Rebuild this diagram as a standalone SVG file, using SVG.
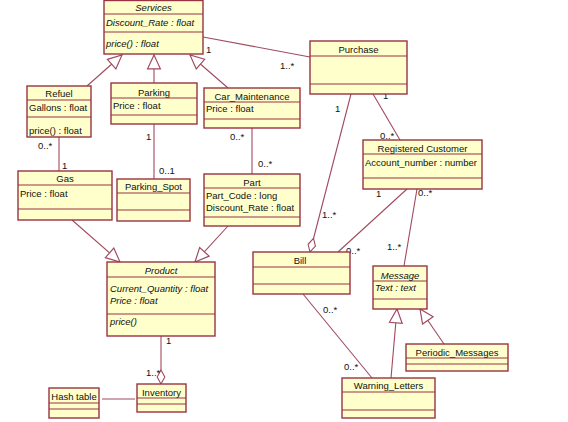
<svg xmlns="http://www.w3.org/2000/svg" width="568" height="422" viewBox="0 0 568 422">
<style>
.box{fill:#FFFFCC;stroke:#993344;stroke-width:1.4}
.sep{stroke:#993344;stroke-width:1.2;fill:none}
.ln{stroke:#A04A5E;stroke-width:1.1;fill:none}
text{font-family:"Liberation Sans",Arial,sans-serif;font-size:9.5px;fill:#111}
.t{text-anchor:middle}
.i{font-style:italic}
</style>
<defs>
<marker id="gen" markerUnits="userSpaceOnUse" markerWidth="16" markerHeight="16" viewBox="-1 -7 15 14" refX="13" refY="0" orient="auto">
<path d="M0,-6 L13,0 L0,6 z" fill="#fff" stroke="#A04A5E" stroke-width="1.1"/>
</marker>
<marker id="dia" markerUnits="userSpaceOnUse" markerWidth="16" markerHeight="10" viewBox="-1 -5 16 10" refX="14" refY="0" orient="auto">
<path d="M0,0 L7,-3.8 L14,0 L7,3.8 z" fill="#fff" stroke="#A04A5E" stroke-width="1.1"/>
</marker>
</defs>
<g id="connectors">
<line class="ln" x1="87" y1="86" x2="122" y2="55" marker-end="url(#gen)"/>
<line class="ln" x1="154" y1="83" x2="154" y2="55" marker-end="url(#gen)"/>
<line class="ln" x1="228" y1="88" x2="190" y2="55" marker-end="url(#gen)"/>
<line class="ln" x1="203" y1="37" x2="310" y2="57"/>
<line class="ln" x1="59" y1="137" x2="59" y2="171"/>
<line class="ln" x1="154" y1="124" x2="154" y2="179"/>
<line class="ln" x1="252" y1="128" x2="252" y2="174"/>
<line class="ln" x1="72" y1="220" x2="120" y2="262" marker-end="url(#gen)"/>
<line class="ln" x1="228" y1="226" x2="195" y2="262" marker-end="url(#gen)"/>
<line class="ln" x1="161" y1="336" x2="161" y2="384" marker-end="url(#dia)"/>
<line class="ln" x1="102" y1="399" x2="135" y2="399"/>
<line class="ln" x1="351" y1="94" x2="310" y2="252" marker-end="url(#dia)"/>
<line class="ln" x1="373" y1="94" x2="400" y2="140"/>
<line class="ln" x1="407" y1="189" x2="338" y2="252"/>
<line class="ln" x1="417" y1="189" x2="404" y2="266"/>
<line class="ln" x1="303" y1="294" x2="372" y2="378"/>
<line class="ln" x1="391" y1="378" x2="397" y2="309" marker-end="url(#gen)"/>
<line class="ln" x1="444" y1="344" x2="420" y2="309" marker-end="url(#gen)"/>
<text x="206" y="53">1</text>
<text x="280" y="69">1..*</text>
<text x="38" y="149">0..*</text>
<text x="62" y="169">1</text>
<text x="146" y="140">1</text>
<text x="159" y="174">0..1</text>
<text x="230" y="140">0..*</text>
<text x="258" y="167">0..*</text>
<text x="166" y="344">1</text>
<text x="146" y="376">1..*</text>
<text x="335" y="112">1</text>
<text x="383" y="99">1</text>
<text x="380" y="139">0..*</text>
<text x="322" y="218">1..*</text>
<text x="376" y="197">1</text>
<text x="346" y="254">0..*</text>
<text x="418" y="196">0..*</text>
<text x="387" y="250">1..*</text>
<text x="323" y="313">0..*</text>
<text x="344" y="370">0..*</text>
</g>
<g id="Services">
<rect class="box" x="104" y="0.5" width="99" height="53.5"/>
<line class="sep" x1="104" y1="14" x2="203" y2="14"/>
<line class="sep" x1="104" y1="32" x2="203" y2="32"/>
<text class="t i" x="153.5" y="11">Services</text>
<text class="i" x="106" y="25.5">Discount_Rate : float</text>
<text class="i" x="106" y="46.5">price() : float</text>
</g>
<g id="Refuel">
<rect class="box" x="27" y="86" width="64" height="51"/>
<line class="sep" x1="27" y1="100" x2="91" y2="100"/>
<line class="sep" x1="27" y1="117" x2="91" y2="117"/>
<text class="t" x="59" y="96.5">Refuel</text>
<text x="29" y="110.5">Gallons : float</text>
<text x="29" y="133.5">price() : float</text>
</g>
<g id="Parking">
<rect class="box" x="111" y="83" width="86" height="41"/>
<line class="sep" x1="111" y1="98" x2="197" y2="98"/>
<line class="sep" x1="111" y1="115" x2="197" y2="115"/>
<text class="t" x="154" y="95.5">Parking</text>
<text x="113" y="108.5">Price : float</text>
</g>
<g id="Car_Maintenance">
<rect class="box" x="204" y="88" width="96" height="40"/>
<line class="sep" x1="204" y1="102" x2="300" y2="102"/>
<line class="sep" x1="204" y1="119" x2="300" y2="119"/>
<text class="t" x="252" y="99.5">Car_Maintenance</text>
<text x="206" y="111.5">Price : float</text>
</g>
<g id="Purchase">
<rect class="box" x="310" y="41" width="97" height="53"/>
<line class="sep" x1="310" y1="56" x2="407" y2="56"/>
<line class="sep" x1="310" y1="84" x2="407" y2="84"/>
<text class="t" x="358.5" y="52.5">Purchase</text>
</g>
<g id="Gas">
<rect class="box" x="18" y="171" width="94" height="49"/>
<line class="sep" x1="18" y1="185" x2="112" y2="185"/>
<line class="sep" x1="18" y1="209" x2="112" y2="209"/>
<text class="t" x="65" y="181.5">Gas</text>
<text x="20" y="196.5">Price : float</text>
</g>
<g id="Parking_Spot">
<rect class="box" x="117" y="179" width="73" height="42"/>
<line class="sep" x1="117" y1="193" x2="190" y2="193"/>
<line class="sep" x1="117" y1="210" x2="190" y2="210"/>
<text class="t" x="153.5" y="189.5">Parking_Spot</text>
</g>
<g id="Part">
<rect class="box" x="204" y="174" width="96" height="52"/>
<line class="sep" x1="204" y1="188" x2="300" y2="188"/>
<line class="sep" x1="204" y1="217" x2="300" y2="217"/>
<text class="t" x="252" y="185.5">Part</text>
<text x="206" y="198.5">Part_Code : long</text>
<text x="206" y="210.5">Discount_Rate : float</text>
</g>
<g id="Registered_Customer">
<rect class="box" x="363" y="140" width="119" height="49"/>
<line class="sep" x1="363" y1="154" x2="482" y2="154"/>
<line class="sep" x1="363" y1="178" x2="482" y2="178"/>
<text class="t" x="422.5" y="151.5">Registered Customer</text>
<text x="365" y="165.5">Account_number : number</text>
</g>
<g id="Bill">
<rect class="box" x="253" y="252" width="97" height="42"/>
<line class="sep" x1="253" y1="267" x2="350" y2="267"/>
<line class="sep" x1="253" y1="284" x2="350" y2="284"/>
<text class="t" x="300" y="263.5">Bill</text>
</g>
<g id="Message">
<rect class="box" x="373" y="266" width="54" height="43"/>
<line class="sep" x1="373" y1="281" x2="427" y2="281"/>
<line class="sep" x1="373" y1="299" x2="427" y2="299"/>
<text class="t i" x="400" y="278.5">Message</text>
<text class="i" x="375" y="291">Text : text</text>
</g>
<g id="Product">
<rect class="box" x="107" y="262" width="108" height="74"/>
<line class="sep" x1="107" y1="277" x2="215" y2="277"/>
<line class="sep" x1="107" y1="314" x2="215" y2="314"/>
<text class="t i" x="161" y="274">Product</text>
<text class="i" x="110" y="291.5">Current_Quantity : float</text>
<text class="i" x="110" y="303.5">Price : float</text>
<text class="i" x="110" y="324.5">price()</text>
</g>
<g id="Periodic_Messages">
<rect class="box" x="406" y="344" width="102" height="27"/>
<line class="sep" x1="406" y1="358" x2="508" y2="358"/>
<line class="sep" x1="406" y1="364" x2="508" y2="364"/>
<text class="t" x="457" y="355.5">Periodic_Messages</text>
</g>
<g id="Warning_Letters">
<rect class="box" x="342" y="378" width="93" height="40"/>
<line class="sep" x1="342" y1="392" x2="435" y2="392"/>
<line class="sep" x1="342" y1="410" x2="435" y2="410"/>
<text class="t" x="388.5" y="388.5">Warning_Letters</text>
</g>
<g id="Inventory">
<rect class="box" x="137" y="384" width="49" height="28"/>
<line class="sep" x1="137" y1="398" x2="186" y2="398"/>
<line class="sep" x1="137" y1="404" x2="186" y2="404"/>
<text class="t" x="161.5" y="395.5">Inventory</text>
</g>
<g id="Hash_table">
<rect class="box" x="49" y="388" width="50" height="30"/>
<line class="sep" x1="49" y1="403" x2="99" y2="403"/>
<line class="sep" x1="49" y1="409" x2="99" y2="409"/>
<text class="t" x="74" y="400">Hash table</text>
</g>
</svg>
